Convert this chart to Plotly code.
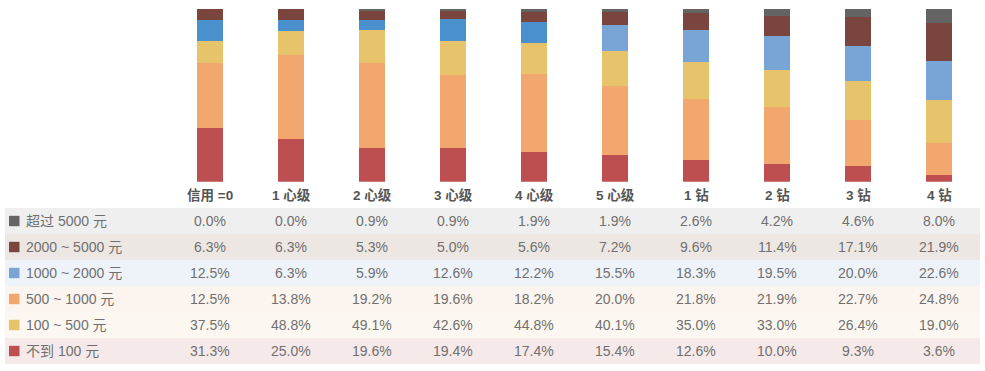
import plotly.graph_objects as go

W, H = 985, 371

categories = ["信用 =0", "1 心级", "2 心级", "3 心级", "4 心级", "5 心级", "1 钻", "2 钻", "3 钻", "4 钻"]

row_labels = ["超过 5000 元", "2000 ~ 5000 元", "1000 ~ 2000 元", "500 ~ 1000 元", "100 ~ 500 元", "不到 100 元"]

over5000 = [0.0, 0.0, 0.9, 0.9, 1.9, 1.9, 2.6, 4.2, 4.6, 8.0]
r2000_5000 = [6.3, 6.3, 5.3, 5.0, 5.6, 7.2, 9.6, 11.4, 17.1, 21.9]
r1000_2000 = [12.5, 6.3, 5.9, 12.6, 12.2, 15.5, 18.3, 19.5, 20.0, 22.6]
r500_1000 = [12.5, 13.8, 19.2, 19.6, 18.2, 20.0, 21.8, 21.9, 22.7, 24.8]
r100_500 = [37.5, 48.8, 49.1, 42.6, 44.8, 40.1, 35.0, 33.0, 26.4, 19.0]
under100 = [31.3, 25.0, 19.6, 19.4, 17.4, 15.4, 12.6, 10.0, 9.3, 3.6]

# table rows top -> bottom
table_rows = [over5000, r2000_5000, r1000_2000, r500_1000, r100_500, under100]

# styles
RED = "#be4f51"
ORANGE = "#f2a76f"
YELLOW = "#e7c36c"
BLUE_DARK = "#4a90cd"
BLUE_LIGHT = "#78a5d6"
BROWN = "#7a453d"
GRAY = "#646464"

legend_sq = [GRAY, BROWN, BLUE_LIGHT, ORANGE, YELLOW, RED]
row_bg = ["#efefef", "#ede7e3", "#eef3fa", "#fcf4ee", "#fcf8f1", "#f6e9e9"]

blue_colors = [BLUE_DARK] * 5 + [BLUE_LIGHT] * 5

FONT = "Liberation Sans, Noto Sans CJK SC, sans-serif"
TXT = "#707070"


def py(p):
    return (H - p) / H


def px(p):
    return p / W


fig = go.Figure()
stack = [
    (under100, RED),
    (r100_500, ORANGE),
    (r500_1000, YELLOW),
    (r1000_2000, blue_colors),
    (r2000_5000, BROWN),
    (over5000, GRAY),
]
for vals, col in stack:
    fig.add_trace(go.Bar(x=categories, y=vals, marker=dict(color=col, line=dict(width=0)),
                         hoverinfo="skip", showlegend=False))

bar_top, bar_bot = 9, 181.7
x_left, x_right = 169.5, 979.5

fig.update_layout(
    width=W, height=H,
    margin=dict(l=0, r=0, t=0, b=0),
    paper_bgcolor="white", plot_bgcolor="white",
    barmode="stack", barnorm="percent", bargap=0.68,
    xaxis=dict(domain=[px(x_left), px(x_right)], showticklabels=False, showgrid=False,
               zeroline=False, showline=False, range=[-0.5, 9.5]),
    yaxis=dict(domain=[py(bar_bot), py(bar_top)], range=[0, 100], showticklabels=False,
               showgrid=False, zeroline=False, showline=False),
    font=dict(family=FONT),
)

shapes = []
annotations = []

# category labels
for c in categories:
    annotations.append(dict(x=c, xref="x", y=py(195), yref="paper", text="<b>%s</b>" % c,
                            showarrow=False, font=dict(size=13.5, color="#555555", family=FONT),
                            xanchor="center", yanchor="middle"))

row_top0 = 208
row_h = 26
tbl_l, tbl_r = 5, 980
for i, (lab, vals) in enumerate(zip(row_labels, table_rows)):
    top = row_top0 + i * row_h
    bot = top + row_h
    cy = top + row_h / 2
    shapes.append(dict(type="rect", xref="paper", yref="paper", x0=px(tbl_l), x1=px(tbl_r),
                       y0=py(bot), y1=py(top), fillcolor=row_bg[i], line=dict(width=0), layer="below"))
    shapes.append(dict(type="rect", xref="paper", yref="paper", x0=px(9), x1=px(19.5),
                       y0=py(cy + 5.2), y1=py(cy - 5.2), fillcolor=legend_sq[i], line=dict(width=0)))
    annotations.append(dict(x=px(24), xref="paper", y=py(cy), yref="paper", text=lab,
                            showarrow=False, xanchor="left", yanchor="middle",
                            font=dict(size=14, color=TXT, family=FONT)))
    for c, v in zip(categories, vals):
        annotations.append(dict(x=c, xref="x", y=py(cy), yref="paper", text="%.1f%%" % v,
                                showarrow=False, xanchor="center", yanchor="middle",
                                font=dict(size=14, color=TXT, family=FONT)))

fig.update_layout(shapes=shapes, annotations=annotations)

fig.write_html("out.html", config={"displayModeBar": False},
               post_script="document.body.style.margin='0';document.body.style.padding='0';")
